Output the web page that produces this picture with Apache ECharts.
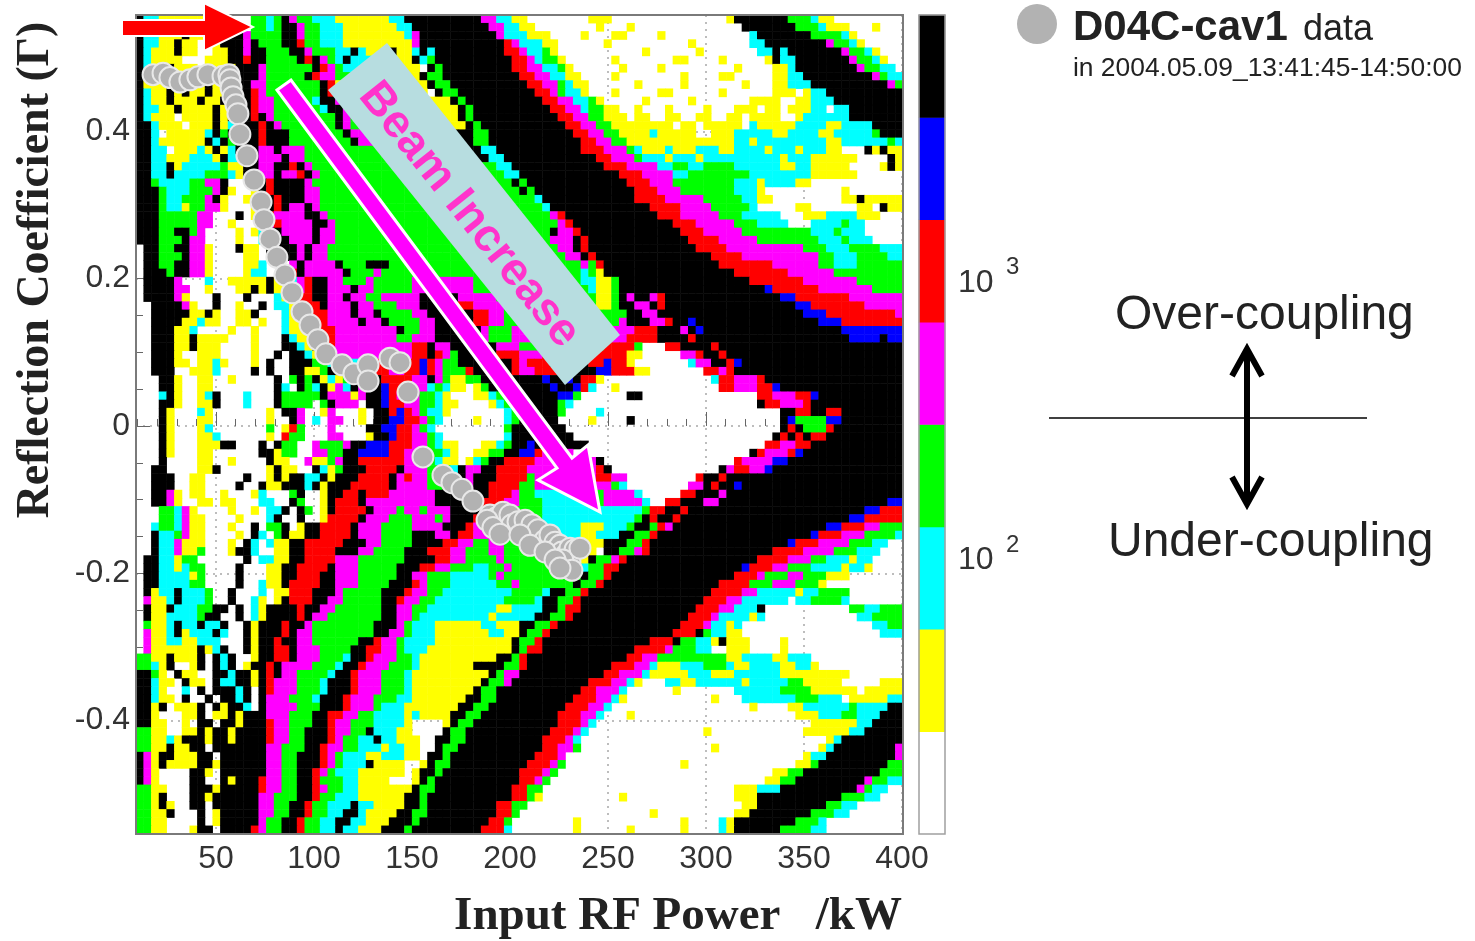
<!DOCTYPE html>
<html><head><meta charset="utf-8"><style>html,body{margin:0;padding:0;background:#fff}#c{width:1475px;height:941px}</style>
<script src="https://cdn.jsdelivr.net/npm/echarts@6/dist/echarts.min.js"></script></head><body><div id="c"></div>
<script>
// colour classes from low to high, as in the colour bar
const levelLetters = ['W','Y','C','G','M','R','B','K'];
const levelColors = ['rgba(255,255,255,0)','#ffff00','#00ffff','#00ff00','#ff00ff','#ff0000','#0000ff','#000000'];
// each row, top to bottom: class letter + column where the run ends (100 columns, 100 rows)
const heatRows = [
"K1 C3 Y9 W15 G17 C18 G19 K20 M21 G23 C26 Y33 C35 K45 M47 C49 Y51 W59 Y62 W77 Y78 K85 G88 C89 Y91 W100",
"K1 C3 Y9 W15 G17 C18 G19 K21 M22 G24 C27 Y34 C36 K46 M48 C50 Y52 W60 Y61 W64 Y65 W79 K86 G89 C90 Y93 W96 Y97 W100",
"K1 C3 Y6 K7 Y9 W12 K14 M15 G19 K21 M22 G24 C27 Y35 C36 M37 K47 M48 C51 Y54 W58 Y59 W62 Y64 W68 Y69 W80 C81 K88 G92 C93 Y94 W100",
"K1 C3 Y5 K6 Y8 W9 Y11 K14 M15 K16 G19 K21 R22 G24 C27 Y36 M37 K48 R49 M50 C53 Y55 W61 Y62 W72 Y73 W80 C82 K90 M91 G93 C94 Y95 W100",
"K1 C2 Y5 K6 Y8 W10 Y12 K14 M15 K17 G20 K22 M23 G26 C28 K29 C30 Y33 K34 Y36 C37 K38 C39 K48 R50 M51 C53 G54 Y55 W66 Y67 W73 Y74 W81 C83 K84 C85 K92 M93 G95 C96 Y97 W100",
"K1 C2 Y6 W9 Y12 K14 R15 K17 G21 K22 R23 K24 M25 G26 C27 K28 C31 Y36 K37 C38 G39 K49 R51 M52 C53 G55 Y56 W62 Y63 W70 Y72 W76 Y77 W82 Y83 K84 C86 K93 M94 G96 C97 Y98 W100",
"K1 C2 Y4 K5 Y8 W9 Y13 K16 M17 G23 K24 R25 M26 G27 C30 Y37 W38 K39 G40 K49 R51 M53 C55 G56 Y57 W63 Y64 W68 Y69 W78 Y79 W83 Y85 C86 K94 M95 G97 C99 W100",
"K1 C2 Y4 W6 Y8 K9 Y13 K16 M17 G22 K23 R24 M26 G28 C30 Y37 K38 G40 K50 R52 M54 C56 Y58 W62 Y63 W71 Y72 W76 Y78 W83 Y85 C87 K96 M97 G98 C100",
"K1 Y4 K5 Y7 K8 Y9 K10 Y12 K15 M17 G24 K25 R26 Y38 K39 G41 K51 R53 M55 G56 C57 Y59 W65 Y66 W71 Y72 W79 Y80 W83 Y85 C88 K98 M99 G100",
"K1 C2 Y4 K5 Y6 K7 Y9 K10 Y12 K15 R16 M17 G24 K25 R26 Y38 W39 K40 G42 K52 R54 M55 G56 C58 Y59 W62 Y63 W68 Y70 W76 Y77 W83 Y86 W87 Y88 C90 K100",
"K1 C2 Y4 K5 Y8 K9 Y11 K12 Y13 K15 R16 M18 G23 C24 K26 M27 Y41 K42 G43 K53 R55 M57 C59 G60 Y61 W66 Y67 W72 Y73 W80 Y84 W86 Y88 C91 K100",
"K1 C3 Y5 K6 Y10 K11 Y13 K15 R16 M18 G24 C25 K27 M28 Y42 K43 G44 K54 R56 M58 C59 G61 Y63 W65 Y66 W69 Y70 W74 Y75 W78 Y81 W82 Y84 W85 Y88 C90 W91 C93 K100",
"K1 C2 Y5 W6 Y10 K11 Y12 K15 R16 K17 M18 G26 K27 M28 G29 Y42 K43 G44 K55 R57 M59 G61 Y64 W65 Y67 W69 Y71 W73 Y75 W77 Y79 W80 Y84 W86 Y87 C93 K100",
"K2 C3 Y6 W7 Y10 K11 Y12 C13 K16 R17 K18 M19 G26 K27 M28 G30 Y43 K44 G45 K56 R58 M60 G62 Y70 W71 Y73 W74 Y79 W80 C81 Y86 C90 Y92 C96 K100",
"K2 C3 W4 Y9 C10 K11 G12 K16 R17 K20 G27 K28 M30 G32 K44 G46 K57 R59 M61 G63 Y67 C68 Y73 W75 Y78 C83 Y85 C89 Y91 C96 G97 K100",
"K2 C3 Y9 K10 C11 K12 G13 K16 R17 K20 G28 K29 M31 G33 K44 G46 K58 R60 M62 G64 Y78 C80 Y81 C90 Y92 C98 G99 C100",
"K2 C4 W5 Y8 C9 Y10 K11 Y12 C13 K16 M18 K19 M22 G33 K45 C47 K58 R61 M64 G65 C66 Y69 C70 Y73 C76 Y78 C82 Y83 C86 Y87 C90 Y92 W95 K96 Y97 K98 Y100",
"K2 C4 Y7 C10 Y11 K12 C14 K16 M19 K20 M22 G34 K46 C48 K60 R62 M65 G66 C69 Y70 C73 Y74 C84 Y85 C88 Y94 W98 K99 Y100",
"K2 C4 K5 Y6 C11 G12 Y14 K16 M18 K20 R21 K22 M23 G47 C49 K61 R64 M68 C70 G72 C74 G78 C84 Y86 C88 Y93 W97 Y98 K99 Y100",
"K2 C4 K5 C9 G12 C13 Y14 K16 M18 K19 M21 R22 K23 M24 G48 C50 K63 R66 M70 C72 G80 C88 Y94 W100",
"K2 G3 C7 G9 M11 K12 W15 Y16 K17 R18 K22 M23 G49 K50 G51 K64 R67 M70 G78 C81 Y82 C86 Y88 W100",
"K3 G4 C7 G10 M11 K12 Y13 W15 Y16 K17 R18 K22 M24 G50 K51 G52 K65 R68 M71 G78 C81 Y82 W92 Y93 W100",
"K3 G4 C6 G9 M10 K11 Y12 W14 Y16 K18 R19 K22 M24 G52 C53 K65 R69 M74 G79 C81 Y83 W92 Y94 K95 Y100",
"K3 G4 C6 Y7 G9 M11 Y12 W15 Y16 K18 R19 K20 M22 K23 M24 G53 C54 K67 R71 M75 G80 C81 W86 Y88 W94 Y96 W97 K98 Y100",
"K3 G8 M10 W13 K14 W15 Y16 C17 R18 M22 K24 M25 G54 M55 R56 K68 R71 M76 G79 C84 W87 Y90 C94 Y97 W100",
"K3 G8 M10 W12 Y13 W16 C17 M18 R19 M23 K25 M26 G55 M56 R57 K70 R73 M78 G81 C85 W88 C92 G93 C95 W100",
"K3 G5 K7 G8 M9 W13 Y14 W15 Y16 C17 K19 M23 K24 M26 G54 K55 M57 R58 K71 R74 M79 G88 C91 G92 C95 W100",
"K3 G6 K7 M9 W13 Y14 W16 C17 K20 M23 K24 M26 G54 M57 K58 R59 K72 R76 M81 G89 C92 G93 C96 W100",
"W1 K3 G5 K7 M9 Y10 W13 K14 Y16 W17 K21 M22 K23 M25 G55 M57 K58 R59 K73 R77 M87 G90 C93 G97 C100",
"W1 K3 G6 K7 M9 Y10 W14 Y16 W17 K21 M22 K23 M25 G56 M58 K59 R60 K75 R79 M89 G91 C94 G98 C100",
"W1 K3 G5 K7 M9 Y10 W14 Y16 C17 W20 M21 K22 M26 K27 G30 K33 G58 M59 G60 R61 K76 R83 M89 G91 C94 G100",
"W1 K4 G5 K7 M9 Y10 W14 Y15 C17 W20 R21 K22 M27 K28 G31 M32 G58 C59 G60 Y61 K78 R85 M91 G100",
"W1 K5 M6 W9 C10 W12 Y17 K18 Y20 C21 M22 R23 K25 M27 G30 M31 G36 M44 G58 C60 Y62 G63 K80 R87 M94 G100",
"W1 K5 M7 W9 Y10 W13 Y15 K16 Y17 K18 Y20 M22 R23 K25 M28 K29 M31 G36 M44 G59 C60 Y62 G63 K82 B83 R89 M96 G100",
"W1 K5 M6 Y7 W10 K11 W14 K15 W18 C19 Y21 R23 K25 M27 K28 M30 G32 M37 K42 M47 G60 Y62 G63 K64 M65 K67 M68 R69 K84 B86 R93 M100",
"W2 K6 M7 Y8 W10 K11 W13 Y14 W16 K17 W18 C20 Y21 R24 K25 M28 K29 M31 G34 M37 K42 R44 M48 G60 Y62 G63 K65 M67 K68 R69 K86 B88 R95 M100",
"W2 K7 Y9 K10 Y11 W13 Y15 K16 W19 C20 Y21 R25 M28 K29 M31 K32 G36 M38 K44 R46 M48 G64 K66 M68 K87 B90 R99 M100",
"W2 K6 Y8 C9 Y11 W13 Y15 W16 Y17 W19 C20 Y22 R25 M29 K30 M32 K33 G37 M39 K44 R46 M48 G63 M64 K67 M69 R70 K72 B73 K89 B92 R100",
"W2 K5 Y7 C8 W12 Y13 W15 Y16 W19 C20 Y22 R26 M34 K35 G37 M39 K45 M46 G49 M65 R68 K71 M72 K73 B74 K92 B100",
"W2 K5 Y7 K8 Y12 W15 Y16 W19 K20 C21 Y23 R26 M34 G36 M39 K45 M46 G49 M64 R68 K72 R73 K93 B97 K98 B100",
"W2 K5 Y7 K8 Y11 W15 Y16 W19 K21 C22 Y23 K24 Y25 R26 M36 R38 K39 M41 K47 M50 G61 R65 G66 W69 R71 K75 R76 K100",
"W2 K5 Y6 W8 Y11 W15 Y16 W18 K19 W20 K22 C23 Y25 R26 M36 R38 K39 R40 M41 G42 K47 R50 M53 R64 Y66 W71 M73 R74 K76 R77 K100",
"W2 K5 Y7 W8 Y10 C11 Y12 W15 Y16 W17 K18 W20 K23 G25 C31 R33 M35 R37 B38 R39 M40 G42 K49 R50 M51 R54 K59 R61 B62 R64 Y65 W72 C73 M75 K77 R78 B79 K100",
"W2 K5 W7 Y10 C11 W15 K16 W17 K18 W20 K22 Y24 G25 K29 R33 M35 R37 B38 R39 M40 G43 R44 K49 R50 M52 R55 K60 B62 R65 Y67 W74 R76 M77 R78 K100",
"W3 K5 Y6 W8 Y10 W12 Y13 W18 K19 W20 G21 K22 G23 K24 Y25 C26 Y27 G28 K29 M30 K32 R36 M38 K39 M40 G41 Y43 G45 K53 B54 K56 B57 K58 R60 Y61 W75 C76 R78 M81 R82 K100",
"W3 K5 Y6 W8 Y10 W18 K19 C20 W21 K22 G23 C24 K25 Y26 M27 C28 K29 M30 K32 B33 R36 M38 C39 G40 C41 Y43 W44 Y45 G46 K54 B55 K57 B58 R59 C60 W62 Y63 W76 R78 M81 R83 B84 K100",
"W3 C4 K5 Y6 W8 Y9 C10 K11 W14 C15 W18 K19 G24 K25 M28 Y29 M30 K32 B33 R34 M37 G39 C40 Y41 W44 Y46 C47 G48 K55 B57 G58 W64 K66 W81 R83 M86 R88 B89 K100",
"W3 K5 Y6 W8 Y10 K11 W14 C15 W18 K19 G23 W24 G25 K26 M29 W30 K32 B33 R35 M37 G39 C40 Y42 W46 Y47 C48 G49 K55 G56 C57 W81 K82 R84 M87 R88 K100",
"W3 K4 Y5 W8 C9 Y10 W17 Y18 W19 K21 M22 W24 Y25 M26 W29 Y30 W31 K33 R34 B35 R36 M37 G38 C40 Y41 W48 C49 G50 K55 G56 W60 C61 W84 K86 R88 K90 R92 K100",
"W3 K4 Y5 W8 Y10 W17 Y18 W20 K21 M22 W23 C24 W25 M27 W29 Y30 W31 K33 B35 R37 M38 G39 C40 W44 Y45 W48 C49 G50 K55 W59 Y60 W64 K65 W84 K85 B86 G90 B92 K100",
"W3 K4 Y5 W8 Y9 C10 W17 G18 W19 Y20 R21 G22 W25 M26 W30 K32 B34 R36 M37 G38 C39 W48 G49 K56 W84 K85 R86 K87 G90 R91 K100",
"W3 K4 Y5 W8 Y10 C11 W17 Y18 W19 R20 G22 W25 M27 W30 Y31 K33 B34 R36 M38 G39 C40 W48 C49 K57 W83 K84 R85 K86 R87 K88 R90 K100",
"W3 K4 Y5 W8 Y11 K13 W16 K17 W18 K19 G21 W23 M24 G27 M28 K30 B33 R36 M38 G39 C40 Y42 W45 Y47 C48 G49 K51 B52 K59 W82 R84 M86 R88 K100",
"W3 K4 Y5 W8 Y10 W16 K18 Y19 G21 W23 M25 G27 K29 B33 R35 M38 G40 C41 Y42 W44 Y46 G48 K50 B52 R53 M57 W80 K81 R82 M85 R86 B87 K100",
"W3 K4 W8 Y10 W12 Y13 W17 K18 Y20 W22 M23 Y25 G26 M27 K29 R35 M38 G39 C40 Y42 W43 Y44 C45 G46 K48 R52 M60 K61 W78 R79 M83 B85 K100",
"W2 K4 W8 Y10 K11 W17 Y18 K19 Y21 W23 K24 C25 Y26 G27 K30 R34 K35 M38 G41 C42 K43 M45 K47 R51 M60 R61 K62 W76 K77 M78 R80 M82 B83 K100",
"W2 K5 W7 Y9 W14 K15 W17 Y18 K19 Y20 K22 C24 K25 Y26 K29 R33 K34 M35 R36 M38 G40 C42 K43 M44 K47 R51 G52 M60 R62 M64 W73 R74 K76 R77 K100",
"W2 K5 W7 Y9 W13 K14 W16 K17 Y19 K22 C23 K24 Y25 K28 R33 K34 M38 G40 K41 M44 K46 R50 G52 M62 G63 C64 W72 M74 K75 R76 K78 B79 K100",
"W2 K4 M5 Y6 W7 Y9 W11 Y12 W15 Y16 C17 W20 G21 K22 W24 Y25 K27 R29 K30 R33 M39 K46 R49 M50 G52 C57 M60 G61 M65 C66 W71 R73 K76 M77 K100",
"W2 K4 M5 Y6 W8 Y10 W11 Y13 W16 C18 W20 K21 G22 W24 Y25 K26 R29 K30 M39 K45 R48 M50 G53 C59 G61 M66 C67 W69 R71 K74 M76 K98 B100",
"W3 G5 C6 M7 Y8 W12 Y13 W15 Y16 W17 C19 K20 W21 K22 G23 W24 Y25 K26 R30 K31 M34 G35 M37 G38 M41 K45 R46 G53 C66 G67 R69 K71 R72 K95 B97 R100",
"W3 G5 C6 M7 Y9 W13 Y14 W17 C18 K19 W21 K22 W24 Y25 R29 K30 M33 G36 M39 G40 M41 K44 R46 M48 G53 C65 G66 K67 R68 K70 R71 K93 B95 R100",
"W2 C3 G5 C6 M7 Y9 W12 Y13 W15 K16 W17 G19 K20 W21 Y22 K24 R28 K29 M32 G36 M40 K43 R44 M48 G50 C58 Y61 C64 G65 K67 G68 R69 M70 K90 B92 R95 M97 G100",
"W2 K3 C5 G6 M7 Y9 W13 Y14 W15 K16 C17 W18 G19 K20 Y22 K24 R28 K29 M32 G36 K39 M41 K42 R44 M47 G50 C58 Y60 C63 K65 G67 R68 K88 B89 R92 M95 G99 C100",
"W2 K3 C5 M6 Y9 W12 Y13 W14 K15 C16 W17 C18 Y20 K22 R27 K30 M32 G36 K40 R42 M44 G46 M48 G52 C53 G58 Y61 K64 G66 R67 K85 B86 R89 M93 G96 C98 W100",
"W2 K3 C5 M6 Y8 G9 W12 Y13 K15 C16 W18 Y20 K22 R26 K29 M31 G35 K38 R41 M43 G46 M48 G52 C53 G58 Y60 W61 K63 G65 M66 R67 K83 R87 M91 G94 C97 W100",
"W1 K3 C5 Y6 G8 W14 K15 W16 C18 Y20 K22 R26 M29 G35 K39 R41 M43 G47 M48 G54 Y59 K60 G62 M63 R64 K81 R85 M88 G90 C93 Y94 C96 W100",
"W1 K3 C5 Y6 C7 G9 W13 K14 W17 Y19 K21 R25 K26 M29 G34 K37 R39 M41 G44 C46 G48 M49 G56 K58 C59 G61 R63 K79 B80 R83 M85 G88 C92 Y93 C95 Y96 W100",
"W1 K3 C7 Y8 G9 W13 K14 W17 Y19 K21 R24 K26 M29 G34 K36 M38 G41 C46 G47 M48 G58 K59 G61 R62 K78 R81 M82 G85 M87 G90 Y93 W100",
"W1 K3 C7 G9 W13 K14 W16 C17 Y19 K20 R24 K26 M29 G33 K36 R37 M38 G41 C47 G49 M50 G57 K58 G60 R61 K76 R80 G83 M86 G89 Y90 W100",
"W1 K2 Y3 C5 K6 C9 G10 W12 K13 W16 C17 W18 Y20 R23 K26 M27 G32 K35 R36 M38 G40 C49 G53 C54 K56 G58 R59 K75 R79 M81 C86 Y87 C89 G93 W100",
"W1 M2 Y4 C5 K6 C9 G10 W12 K13 W15 C16 Y17 W18 Y19 K20 R23 K25 M27 G32 K34 R35 M37 G39 C48 G52 C53 K55 G57 R58 K74 R77 M79 C85 W86 C88 G92 C93 W100",
"W1 K2 Y4 K5 C8 G10 K12 W13 K14 W15 C16 Y17 K21 R22 K24 M26 G32 K34 M36 G38 C47 Y49 C53 K55 G56 R58 K73 R76 M78 C81 K82 W93 G95 C97 G100",
"W1 K2 Y4 C8 G9 K11 W13 K14 W15 C16 Y17 K21 R22 K23 M25 G32 K34 M36 G37 C46 Y47 C52 K54 G56 R57 K72 R75 M76 C80 Y81 C82 W94 C96 G100",
"W1 G2 Y4 C5 K6 C8 K9 C11 K12 W14 K15 Y16 K19 R20 K22 M23 G31 K34 M35 G36 C39 Y45 C47 Y50 K52 G54 R55 K71 R74 M75 C77 Y78 C79 W96 C98 G100",
"W1 M2 Y4 C5 K6 Y7 C10 K11 C12 W14 K15 Y16 K19 R20 K21 M23 G31 K33 M35 G36 C39 Y46 C48 Y50 K51 G53 R54 K70 R73 K74 G75 C77 Y79 W97 C100",
"W1 M2 Y4 C6 Y8 C11 W14 K15 Y16 K18 R19 K21 M23 G29 K31 R32 M34 G35 C39 Y49 K50 G52 R53 K67 R70 K71 G73 C75 Y76 K77 Y80 W84 Y85 W100",
"W1 M2 Y8 K9 Y10 C11 K12 W14 K15 Y16 K18 R20 K21 M24 G28 K30 R32 M34 G35 C38 Y49 K50 G51 R53 K65 R69 M70 G73 C75 W77 Y80 W84 Y85 W100",
"G2 Y4 K5 Y8 K9 W10 K11 C12 K13 W15 Y16 K18 R20 K21 M24 G27 C28 K30 R31 M34 G36 C37 Y47 K49 G50 R51 K64 R66 M68 G77 Y79 C83 Y85 C88 W100",
"G2 C3 Y4 K5 W7 Y8 K9 W10 K11 C12 K13 W14 Y15 K17 R18 K19 M23 G26 C27 K29 R30 M33 G36 C37 Y44 K48 G50 R51 K62 R65 M67 C68 Y71 C74 G77 C78 Y80 C84 Y86 C88 Y89 W100",
"K2 G3 Y4 W5 K6 Y8 W10 K12 C13 K15 Y16 K17 R18 K19 M21 G25 C26 K28 R29 M32 G35 C36 Y46 K47 G48 M50 K61 R63 M66 C67 Y72 C75 Y78 C84 Y93 W100",
"K2 C3 Y5 W6 K7 Y9 W10 K11 C13 K15 Y16 K17 R18 M21 G24 C25 K28 R29 M32 G35 C36 Y45 K46 G48 M49 K59 R62 M64 C65 Y66 W69 C71 Y73 C79 Y80 C85 G87 Y92 W97 Y100",
"K2 C3 Y4 W6 C7 W8 K9 W10 K13 C14 K15 W16 K17 R18 M21 G24 C25 K28 R29 M32 G35 C36 Y44 K45 G47 K58 R60 M63 C64 W70 Y71 W78 C84 G88 Y94 W95 Y100",
"K2 C3 Y5 W6 K7 W9 K10 W11 K13 C14 K15 W16 K17 M20 G23 C24 K27 R28 M31 G34 C36 Y43 K45 G47 K57 R60 M62 C63 Y64 W75 Y76 W79 C86 G89 C92 W93 Y98 C100",
"K2 Y3 K4 W5 Y8 K9 W10 K11 Y12 K14 C15 W16 K17 M21 G24 K27 R28 M31 G32 C35 Y42 K44 G46 K56 R59 M61 C62 W80 Y81 W85 Y87 C93 G94 C98 K100",
"K2 Y3 W6 Y8 K9 W10 Y12 K13 Y14 K17 M20 G23 K25 R27 M29 G31 C35 Y36 C37 Y41 K43 G45 K55 R58 M60 C61 W64 Y65 W86 Y89 C92 G94 C97 K100",
"K2 Y4 W6 Y7 W8 K10 W11 K13 Y14 K17 R18 M20 G23 K25 R26 M28 G31 C35 Y36 W40 Y41 K42 G44 K55 R58 M59 C60 W88 Y94 C96 K100",
"G2 Y4 W6 Y8 K9 Y10 K12 Y13 K17 R18 M20 G22 K25 R26 M28 G30 K31 C34 Y36 W40 K41 G43 K54 R57 M58 C59 W74 Y75 W87 Y93 C95 K100",
"G2 Y4 C5 Y6 K9 Y10 K12 Y13 K17 R18 M20 G22 K25 R26 M27 G29 C31 K32 C34 Y37 W39 K41 G43 K53 R56 M57 C58 W90 Y91 C92 K100",
"G2 Y4 K5 Y7 K9 W10 K17 M19 G22 K24 R25 M27 G29 C32 Y33 C35 Y37 W39 K40 G42 K53 R55 M57 G58 W75 Y76 W89 Y90 C91 K99 M100",
"K1 M2 Y3 K5 Y8 K10 W11 K17 M19 G21 K24 R25 M26 G27 C30 Y32 C35 Y37 W38 K40 G41 K52 R55 M56 W87 Y88 C90 K99 M100",
"K1 M2 Y3 K4 Y8 K10 Y11 K17 M19 G21 K24 R25 M26 G27 C30 K31 Y35 W37 Y38 K39 G41 K51 R54 M55 G56 W71 Y72 W86 Y88 G89 K98 G100",
"K1 M2 Y3 W7 K9 Y10 W11 K17 M19 G21 K23 R24 M25 G26 C29 Y35 W36 Y37 K39 G40 K50 R53 M54 G55 W83 Y85 G87 K97 G100",
"K1 M2 Y3 W7 K9 W11 K12 Y13 K16 R17 M19 G21 K23 R24 G27 C29 Y33 W36 Y37 K38 G39 K50 R52 M53 G54 W82 Y84 G86 K95 M96 G98 C100",
"G2 Y4 W7 K10 Y11 K16 R17 M19 G21 K23 R24 M25 G27 C29 Y36 K37 G39 K49 R51 G53 W78 Y81 C84 K94 M95 G96 C98 W100",
"G2 Y3 K4 W7 K9 Y10 K16 M18 G21 K23 R24 G26 C29 Y35 K37 G38 K49 R51 G52 Y53 W63 Y64 W78 Y81 K92 G95 C97 W100",
"G2 Y3 K4 Y5 W7 K9 W10 K16 M18 G20 K22 R23 G25 C28 K29 C31 Y35 K37 G38 K47 R49 G51 W79 Y81 K90 G92 C94 W100",
"G2 Y4 K5 W8 K9 W10 Y11 K16 M18 G20 K22 R23 G25 C27 K29 C30 Y34 K36 G38 K47 R49 G50 W67 Y68 W78 Y80 K88 G91 C93 W100",
"G2 Y4 W8 K9 W10 Y11 K16 M17 G19 K21 R22 G24 C26 K28 C30 Y33 K36 G37 K46 R48 G49 W57 Y58 W71 Y72 W76 C77 Y78 K86 G89 C90 W100",
"G2 Y4 W7 Y8 K10 W11 K15 R16 M17 G19 K21 R22 G24 C26 K27 C29 Y32 K35 G36 K45 R48 C49 W57 Y58 W64 Y65 W71 Y72 W76 C77 Y78 K84 G88 C90 W100"
];
const powerKW = [17.9,23.0,26.5,31.6,36.7,40.8,45.9,53.6,56.6,57.1,57.7,58.7,60.2,61.2,62.2,65.8,69.4,73.0,74.5,77.6,81.1,85.2,88.8,93.9,98.0,102.0,106.1,114.3,120.4,127.6,127.6,138.8,143.9,148.0,155.6,165.8,170.4,175.5,181.1,189.8,192.9,194.9,196.4,200.0,201.0,204.1,207.7,209.2,211.2,214.3,215.3,217.9,220.4,223.0,223.5,225.5,226.5,228.6,230.6,233.2,230.6,227.0,231.6,235.7,188.3,191.3,194.9,205.1,210.2,217.9,223.0,225.5];
const reflection = [.477,.479,.473,.467,.470,.474,.477,.475,.477,.470,.459,.447,.436,.424,.396,.367,.334,.304,.280,.254,.229,.205,.181,.155,.137,.117,.098,.083,.071,.083,.061,.092,.086,.046,-.042,-.067,-.077,-.086,-.102,-.121,-.125,-.137,-.117,-.121,-.134,-.130,-.128,-.148,-.134,-.141,-.162,-.155,-.148,-.158,-.168,-.162,-.171,-.175,-.166,-.168,-.185,-.182,-.196,-.166,-.128,-.138,-.147,-.148,-.162,-.171,-.182,-.193];
const xMajor = [50,100,150,200,250,300,350,400];
const xMinor = [10,20,30,40,60,70,80,90,110,120,130,140,160,170,180,190,210,220,230,240,260,270,280,290,310,320,330,340,360,370,380,390];
const yMajor = [-0.4,-0.2,0,0.2,0.4];
const yMinor = [-0.55,-0.5,-0.45,-0.35,-0.3,-0.25,-0.15,-0.1,-0.05,0.05,0.1,0.15,0.25,0.3,0.35,0.45,0.5,0.55];

const cells = [];
heatRows.forEach((row, r) => {
  let c = 0;
  row.split(' ').forEach(run => {
    const lvl = levelLetters.indexOf(run[0]), end = +run.slice(1);
    for (; c < end; c++) cells.push([c, r, lvl]);
  });
});
const idx = n => Array.from({length: n}, (_, i) => String(i));
const serif = '"Liberation Serif"', sans = '"Liberation Sans"';
const hiddenAxis = (gridIndex, n, inverse) => ({type: 'category', gridIndex, data: idx(n), inverse: !!inverse, show: false});
const T = (x, y, text, font, extra) => ({type: 'text', x, y, z: 50, style: Object.assign({text, font, fill: '#222', align: 'left', verticalAlign: 'middle'}, extra)});

const chart = echarts.init(document.getElementById('c'), null, {renderer: 'canvas'});
chart.setOption({
  animation: false,
  backgroundColor: '#fff',
  grid: [
    {left: 136, top: 15, width: 767, height: 819},
    {left: 136, top: 15, width: 767, height: 819},
    {left: 919, top: 15, width: 26, height: 819}
  ],
  xAxis: [
    hiddenAxis(0, 100),
    {type: 'value', gridIndex: 1, min: 9.2, max: 400.5, position: 'bottom',
     axisLine: {show: false},
     axisTick: {show: true, inside: true, length: 14, customValues: xMajor, lineStyle: {color: '#666', width: 1}},
     axisLabel: {customValues: xMajor, fontFamily: sans, fontSize: 32, color: '#333', margin: 9, hideOverlap: false},
     splitLine: {show: true, lineStyle: {color: '#a8a8a8', type: [2, 5], width: 1.5}}},
    {type: 'value', gridIndex: 1, min: 9.2, max: 400.5, position: 'bottom',
     axisLine: {show: false}, axisLabel: {show: false}, splitLine: {show: false},
     axisTick: {show: true, inside: true, length: 7, customValues: xMinor, lineStyle: {color: '#666', width: 1}}},
    {type: 'category', gridIndex: 2, data: ['0'], show: false}
  ],
  yAxis: [
    hiddenAxis(0, heatRows.length, true),
    {type: 'value', gridIndex: 1, min: -0.554, max: 0.558, position: 'left',
     axisLine: {show: false},
     axisTick: {show: true, inside: true, length: 14, customValues: yMajor, lineStyle: {color: '#666', width: 1}},
     axisLabel: {customValues: yMajor, fontFamily: sans, fontSize: 32, color: '#333', margin: 6, padding: [8, 0, 0, 0],
                 formatter: v => String(Math.round(v * 10) / 10)},
     splitLine: {show: true, lineStyle: {color: '#a8a8a8', type: [2, 5], width: 1.5}}},
    {type: 'value', gridIndex: 1, min: -0.554, max: 0.558, position: 'left',
     axisLine: {show: false}, axisLabel: {show: false}, splitLine: {show: false},
     axisTick: {show: true, inside: true, length: 7, customValues: yMinor, lineStyle: {color: '#666', width: 1}}},
    {type: 'category', gridIndex: 2, data: idx(8), inverse: true, show: false}
  ],
  visualMap: {
    type: 'piecewise', show: false, dimension: 2, seriesIndex: [0, 1],
    pieces: levelColors.map((color, value) => ({value, color}))
  },
  series: [
    {type: 'heatmap', xAxisIndex: 0, yAxisIndex: 0, data: cells, silent: true, progressive: 0, z: 1},
    {type: 'heatmap', xAxisIndex: 3, yAxisIndex: 3, silent: true, z: 1,
     data: levelColors.map((_, i) => [0, 7 - i, i])},
    {type: 'scatter', xAxisIndex: 1, yAxisIndex: 1, silent: true, z: 10, symbolSize: 21,
     data: powerKW.map((p, i) => [p, reflection[i]]),
     itemStyle: {color: '#b2b2b2', borderColor: '#e8e8e8', borderWidth: 2, opacity: 1}}
  ],
  graphic: {elements: [
    {type: 'rect', z: 20, shape: {x: 136, y: 15, width: 767, height: 819}, style: {fill: 'none', stroke: '#7a7a7a', lineWidth: 2}},
    {type: 'rect', z: 20, shape: {x: 919, y: 15, width: 26, height: 819}, style: {fill: 'none', stroke: '#a0a0a0', lineWidth: 1.5}},
    {type: 'polygon', z: 30, shape: {points: [[328,90],[387,43],[620,335],[565,385]]}, style: {fill: '#b7dde0'}},
    {type: 'polygon', z: 31, shape: {points: [[277,90],[291,80],[572,458],[588,445],[600,512],[538,480],[557,468]]}, style: {fill: '#ff00ff', stroke: '#fff', lineWidth: 3}},
    {type: 'polygon', z: 31, shape: {points: [[122,20],[204,20],[204,3],[253,27],[204,51],[204,36],[122,36]]}, style: {fill: '#ff0000', stroke: '#fff', lineWidth: 2}},
    {type: 'text', z: 32, x: 469, y: 215, rotation: -0.897, style: {text: 'Beam Increase', font: 'bold 46px ' + sans, fill: '#ff33cc', align: 'center', verticalAlign: 'middle'}},
    T(958, 283, '10', '32px ' + sans, {fill: '#333'}),
    T(1006, 267, '3', '24px ' + sans, {fill: '#333'}),
    T(958, 560, '10', '32px ' + sans, {fill: '#333'}),
    T(1006, 545, '2', '24px ' + sans, {fill: '#333'}),
    T(678, 917, 'Input RF Power   /kW', 'bold 47px ' + serif, {align: 'center', fill: '#222'}),
    {type: 'text', z: 50, x: 36, y: 270, rotation: Math.PI / 2, style: {text: 'Reflection Coefficient (Γ)', font: 'bold 46px ' + serif, fill: '#222', align: 'center', verticalAlign: 'middle'}},
    {type: 'circle', z: 50, shape: {cx: 1037, cy: 24, r: 20}, style: {fill: '#b2b2b2'}},
    T(1073, 28, 'D04C-cav1', 'bold 42px ' + sans),
    T(1303, 30, 'data', '36px ' + sans),
    T(1073, 69, 'in 2004.05.09_13:41:45-14:50:00', '26.4px ' + sans),
    T(1115, 316, 'Over-coupling', '48px ' + sans),
    T(1108, 543, 'Under-coupling', '48px ' + sans),
    {type: 'line', z: 50, shape: {x1: 1049, y1: 418, x2: 1367, y2: 418}, style: {stroke: '#000', lineWidth: 1.5}},
    {type: 'line', z: 50, shape: {x1: 1247, y1: 348, x2: 1247, y2: 505}, style: {stroke: '#000', lineWidth: 6}},
    {type: 'polyline', z: 50, shape: {points: [[1232,376],[1247,349],[1262,376]]}, style: {stroke: '#000', lineWidth: 6, fill: 'none'}},
    {type: 'polyline', z: 50, shape: {points: [[1232,477],[1247,504],[1262,477]]}, style: {stroke: '#000', lineWidth: 6, fill: 'none'}}
  ]}
});
</script></body></html>
